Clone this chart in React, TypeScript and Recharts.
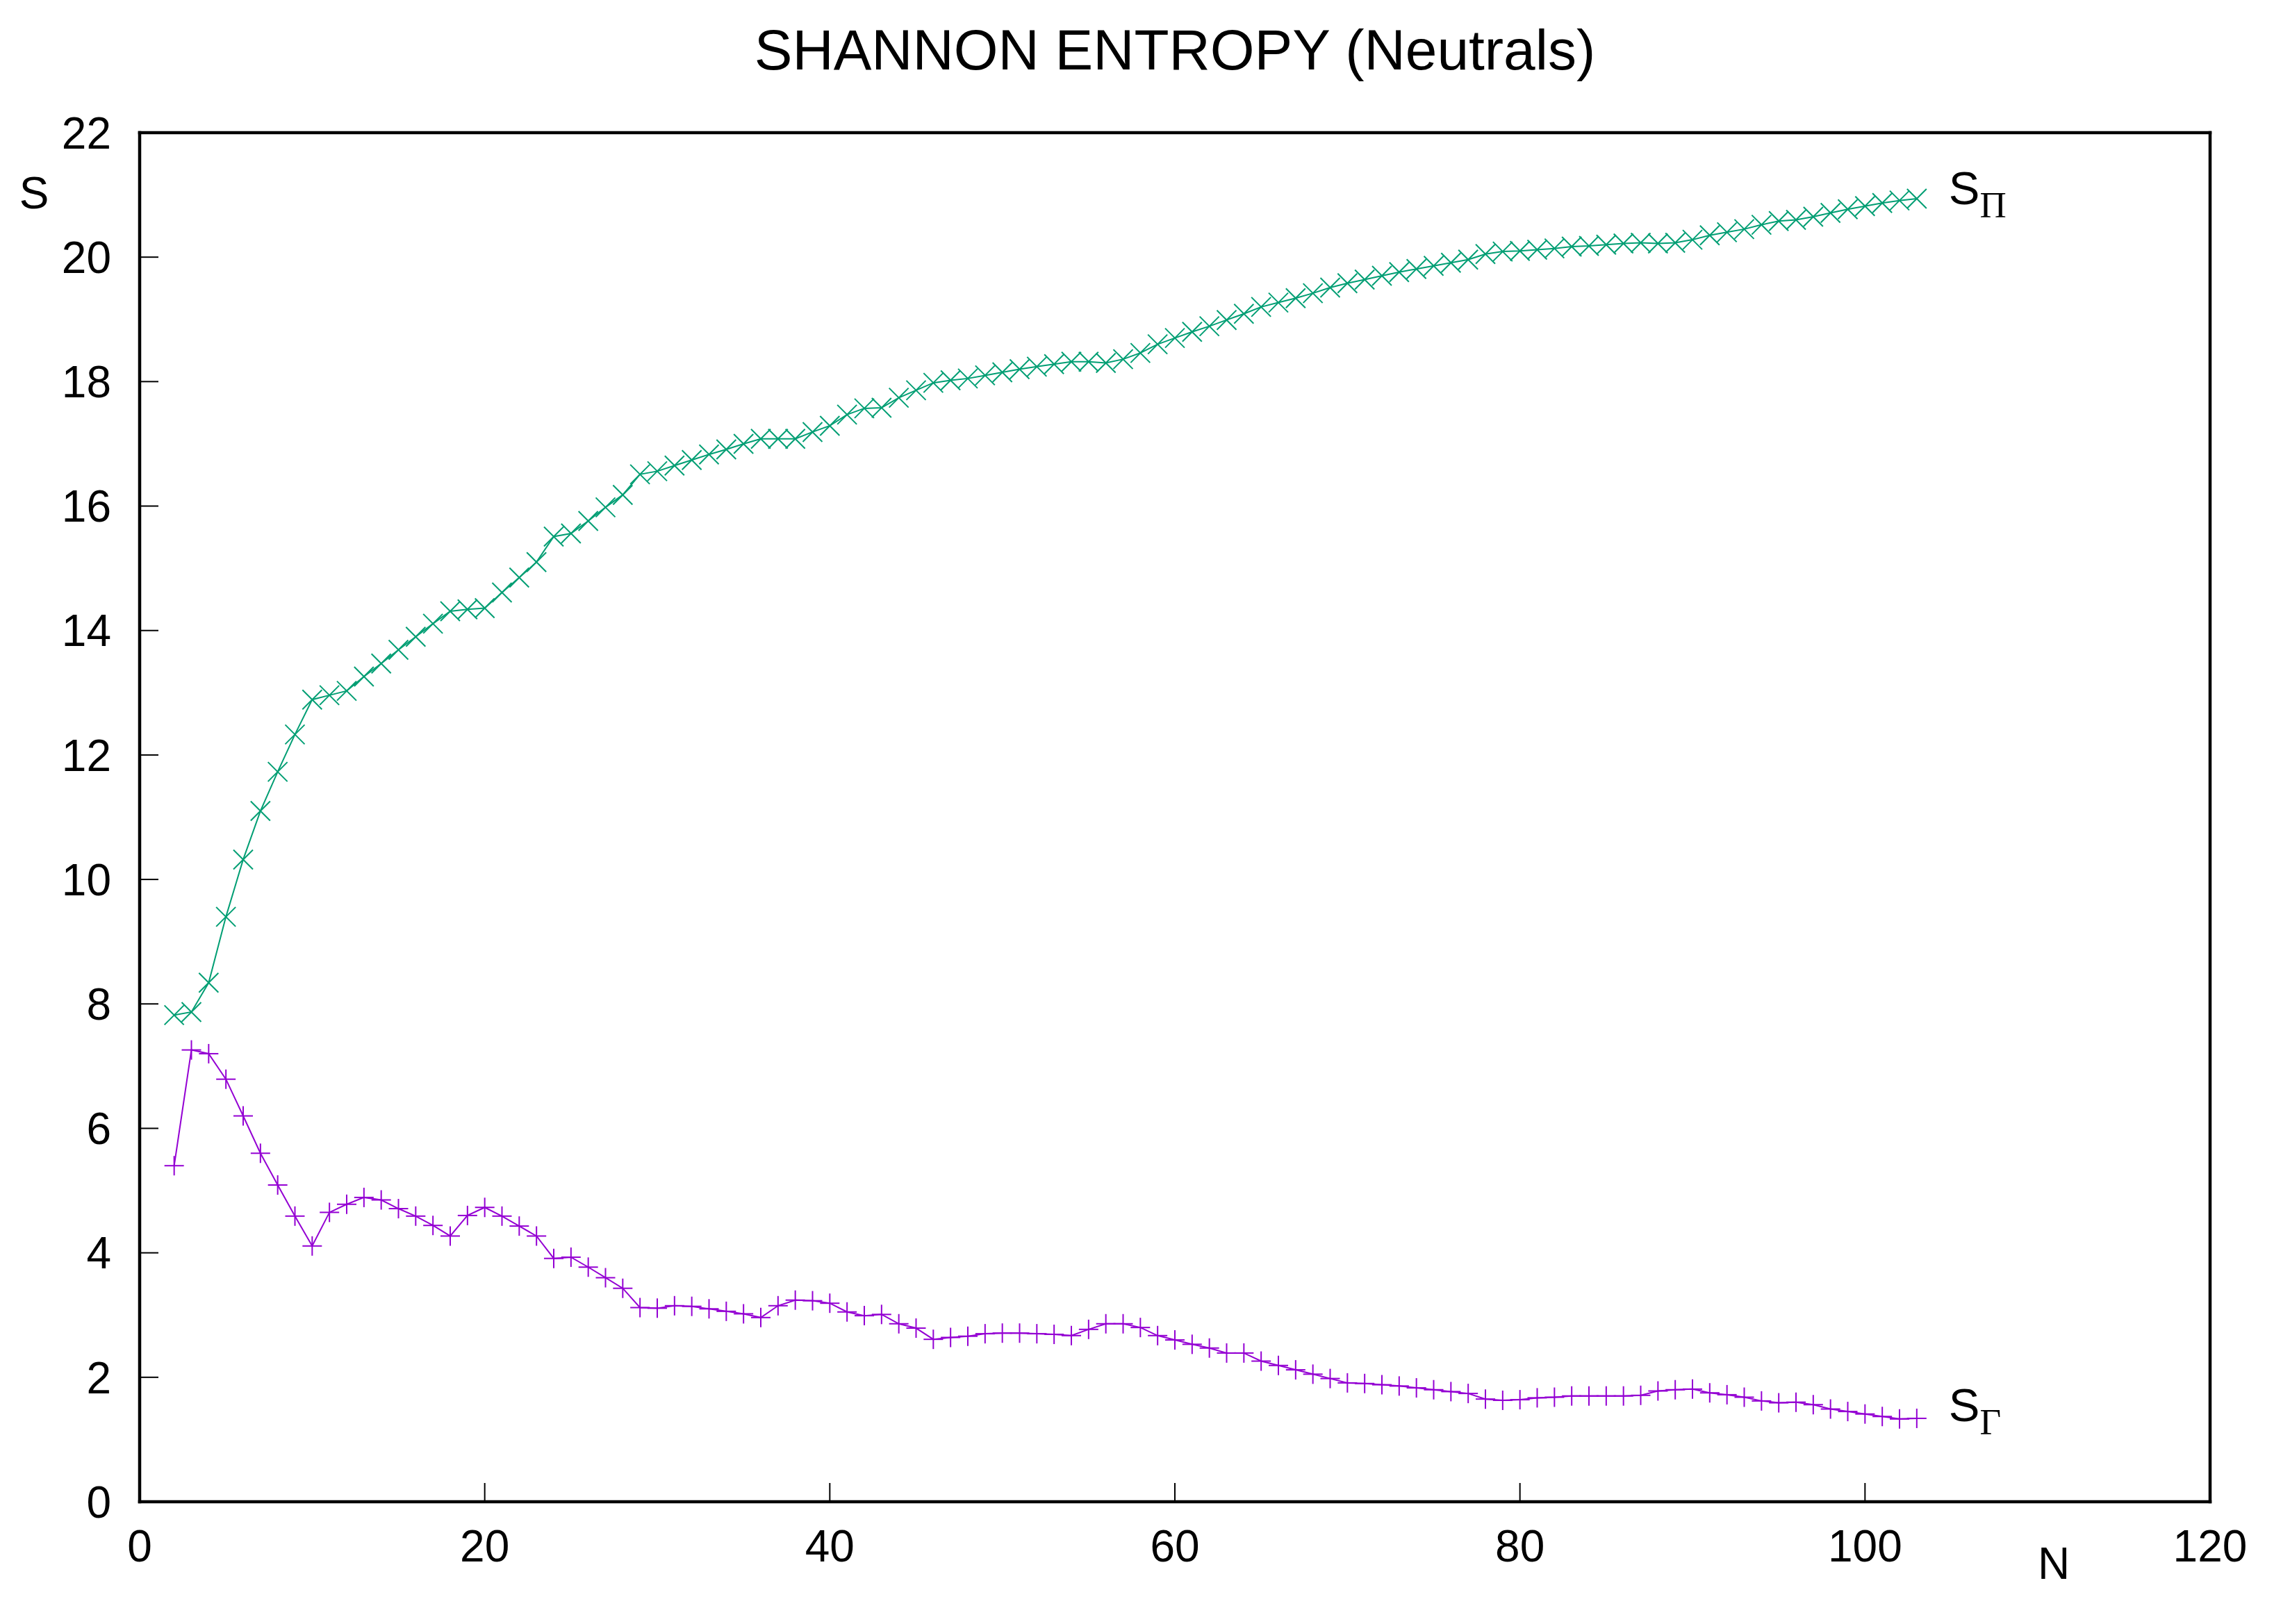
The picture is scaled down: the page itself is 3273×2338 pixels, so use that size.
import React from 'react';
import { LineChart, Line, XAxis, YAxis, LabelList, Label } from 'recharts';

const GREEN = '#009e73';
const PURPLE = '#9400d3';
const FONT = '"Liberation Sans", Arial, Helvetica, sans-serif';
const SERIF = '"Liberation Serif", "Times New Roman", serif';

// number of electrons N
const atomicNumbers = [
  2, 3, 4, 5, 6, 7, 8, 9, 10, 11, 12, 13, 14, 15, 16, 17, 18, 19, 20, 21,
  22, 23, 24, 25, 26, 27, 28, 29, 30, 31, 32, 33, 34, 35, 36, 37, 38, 39, 40, 41,
  42, 43, 44, 45, 46, 47, 48, 49, 50, 51, 52, 53, 54, 55, 56, 57, 58, 59, 60, 61,
  62, 63, 64, 65, 66, 67, 68, 69, 70, 71, 72, 73, 74, 75, 76, 77, 78, 79, 80, 81,
  82, 83, 84, 85, 86, 87, 88, 89, 90, 91, 92, 93, 94, 95, 96, 97, 98, 99, 100, 101,
  102, 103,
];

// S_Pi (momentum space)
const entropyPi = [
  7.82, 7.87, 8.34, 9.40, 10.32, 11.10, 11.73, 12.33, 12.89, 12.96, 13.03, 13.26, 13.47, 13.69, 13.90, 14.11, 14.31, 14.34, 14.36, 14.61,
  14.85, 15.10, 15.51, 15.56, 15.76, 15.98, 16.18, 16.51, 16.56, 16.65, 16.74, 16.83, 16.91, 17.00, 17.08, 17.08, 17.08, 17.19, 17.29, 17.47,
  17.57, 17.58, 17.74, 17.86, 17.98, 18.02, 18.05, 18.10, 18.15, 18.20, 18.24, 18.28, 18.32, 18.32, 18.30, 18.36, 18.46, 18.60, 18.70, 18.80,
  18.89, 18.99, 19.09, 19.20, 19.27, 19.34, 19.42, 19.51, 19.58, 19.64, 19.70, 19.76, 19.81, 19.86, 19.91, 19.96, 20.05, 20.09, 20.10, 20.12,
  20.14, 20.17, 20.18, 20.20, 20.22, 20.23, 20.22, 20.23, 20.28, 20.35, 20.40, 20.45, 20.52, 20.58, 20.60, 20.65, 20.71, 20.77, 20.82, 20.87,
  20.91, 20.94,
];

// S_Gamma (position space)
const entropyGamma = [
  5.40, 7.26, 7.20, 6.79, 6.20, 5.60, 5.09, 4.59, 4.11, 4.65, 4.78, 4.89, 4.85, 4.71, 4.59, 4.44, 4.27, 4.60, 4.73, 4.59,
  4.43, 4.27, 3.91, 3.93, 3.77, 3.60, 3.43, 3.12, 3.11, 3.15, 3.14, 3.10, 3.06, 3.02, 2.96, 3.15, 3.24, 3.23, 3.19, 3.05,
  2.99, 3.01, 2.86, 2.79, 2.61, 2.64, 2.66, 2.70, 2.71, 2.71, 2.70, 2.69, 2.67, 2.77, 2.86, 2.86, 2.80, 2.67, 2.60, 2.53,
  2.47, 2.39, 2.39, 2.26, 2.19, 2.12, 2.05, 1.98, 1.91, 1.90, 1.88, 1.86, 1.83, 1.80, 1.77, 1.74, 1.65, 1.63, 1.64, 1.67,
  1.68, 1.70, 1.70, 1.70, 1.70, 1.71, 1.78, 1.80, 1.81, 1.75, 1.72, 1.68, 1.62, 1.59, 1.60, 1.56, 1.49, 1.45, 1.41, 1.37,
  1.33, 1.34,
];

const xTicks = [0, 20, 40, 60, 80, 100, 120];
const yTicks = [0, 2, 4, 6, 8, 10, 12, 14, 16, 18, 20, 22];

const data = atomicNumbers.map((n, i) => ({ n, pi: entropyPi[i], gamma: entropyGamma[i] }));
const LAST = data.length - 1;

const MARK = 14;

const CrossDot = (props: any) => {
  const { cx, cy, index } = props;
  if (cx == null || cy == null) return null;
  return (
    <g key={`x-${index}`} stroke={GREEN} strokeWidth={2}>
      <line x1={cx - MARK} y1={cy - MARK} x2={cx + MARK} y2={cy + MARK} />
      <line x1={cx - MARK} y1={cy + MARK} x2={cx + MARK} y2={cy - MARK} />
    </g>
  );
};

const PlusDot = (props: any) => {
  const { cx, cy, index } = props;
  if (cx == null || cy == null) return null;
  return (
    <g key={`p-${index}`} stroke={PURPLE} strokeWidth={2}>
      <line x1={cx - MARK} y1={cy} x2={cx + MARK} y2={cy} />
      <line x1={cx} y1={cy - MARK} x2={cx} y2={cy + MARK} />
    </g>
  );
};

// "S" with a greek subscript, next to the last point of a series
const endLabel = (sub: string, dy: number) => (p: any) => {
  if (p.index !== LAST) return null;
  const x = p.x ?? p.viewBox?.x;
  const y = p.y ?? p.viewBox?.y;
  return (
    <text x={x + 46} y={y + dy} fontFamily={FONT} fontSize={67} fill="#000">
      S
      <tspan fontFamily={SERIF} fontSize={53} dy={19}>{sub}</tspan>
    </text>
  );
};

const tickStyle = { fontSize: 64, fill: '#000', fontFamily: FONT };
const axisLineStyle = { stroke: '#000', strokeWidth: 4.5, strokeLinecap: 'square' as const };
const tickLineStyle = { stroke: '#000', strokeWidth: 2 };

export default function App() {
  return (
    <div style={{ position: 'absolute', left: 0, top: 0, width: 3273, height: 2338, background: '#fff' }}>
      <LineChart
        width={3273}
        height={2338}
        data={data}
        margin={{ top: 190, right: 91, bottom: 76, left: 81 }}
      >
        <XAxis
          xAxisId="bottom"
          dataKey="n"
          type="number"
          domain={[0, 120]}
          ticks={xTicks}
          height={100}
          tickSize={-27}
          tickMargin={68}
          tick={tickStyle}
          axisLine={axisLineStyle}
          tickLine={tickLineStyle}
          interval={0}
        >
          <Label
            content={(p: any) => {
              const vb = p.viewBox || {};
              return (
                <text x={vb.x + vb.width - 225} y={vb.y + 111} textAnchor="middle" fontFamily={FONT} fontSize={64} fill="#000">
                  N
                </text>
              );
            }}
          />
        </XAxis>
        <XAxis
          xAxisId="top"
          orientation="top"
          dataKey="n"
          type="number"
          domain={[0, 120]}
          ticks={xTicks}
          height={1}
          tickSize={-27}
          tick={false}
          axisLine={axisLineStyle}
          tickLine={tickLineStyle}
          interval={0}
        >
          <Label
            content={(p: any) => {
              const vb = p.viewBox || {};
              return (
                <text x={vb.x + vb.width / 2} y={vb.y - 90} textAnchor="middle" fontFamily={FONT} fontSize={82} fill="#000">
                  SHANNON ENTROPY (Neutrals)
                </text>
              );
            }}
          />
        </XAxis>
        <YAxis
          yAxisId="left"
          type="number"
          domain={[0, 22]}
          ticks={yTicks}
          width={120}
          tickSize={-27}
          tickMargin={68}
          tick={tickStyle}
          axisLine={axisLineStyle}
          tickLine={tickLineStyle}
          interval={0}
        >
          <Label
            content={(p: any) => {
              const vb = p.viewBox || {};
              return (
                <text x={vb.x - 32} y={vb.y + 109} textAnchor="middle" fontFamily={FONT} fontSize={64} fill="#000">
                  S
                </text>
              );
            }}
          />
        </YAxis>
        <YAxis
          yAxisId="right"
          orientation="right"
          type="number"
          domain={[0, 22]}
          ticks={yTicks}
          width={1}
          tickSize={-27}
          tick={false}
          axisLine={axisLineStyle}
          tickLine={tickLineStyle}
          interval={0}
        />
        <Line
          xAxisId="bottom"
          yAxisId="left"
          type="linear"
          dataKey="pi"
          stroke={GREEN}
          strokeWidth={2}
          dot={CrossDot}
          activeDot={false}
          isAnimationActive={false}
        >
          <LabelList dataKey="pi" content={endLabel('Π', 8)} />
        </Line>
        <Line
          xAxisId="bottom"
          yAxisId="left"
          type="linear"
          dataKey="gamma"
          stroke={PURPLE}
          strokeWidth={2}
          dot={PlusDot}
          activeDot={false}
          isAnimationActive={false}
        >
          <LabelList dataKey="gamma" content={endLabel('Γ', 4)} />
        </Line>
      </LineChart>
    </div>
  );
}
